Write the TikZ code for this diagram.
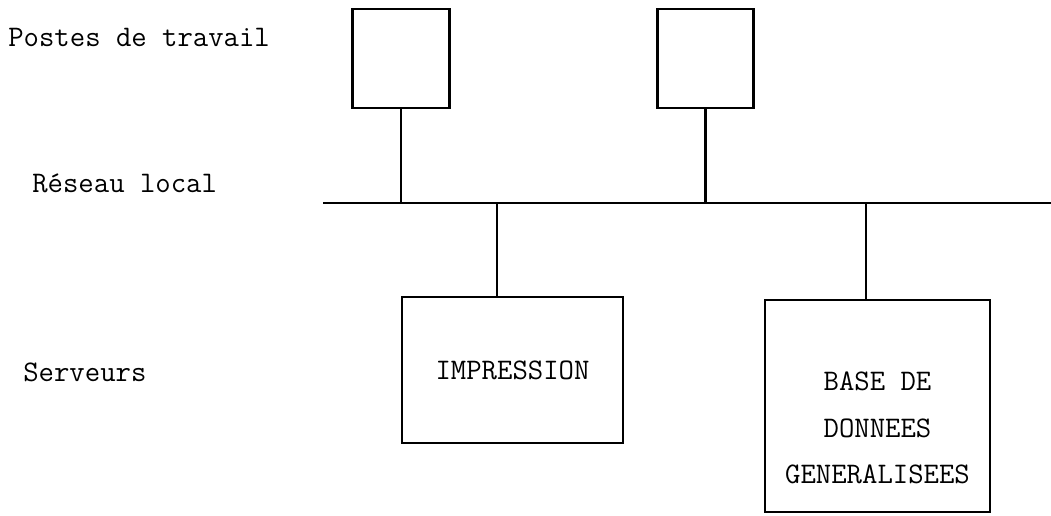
\documentclass[tikz,border=0pt]{standalone}
\usepackage{fontspec}
\usepackage{tikz}
\usetikzlibrary{positioning,calc}

\begin{document}
\begin{tikzpicture}[
    x=0.02cm, y=-0.02cm,
    every node/.style={font=\ttfamily\fontsize{17}{26.6}\selectfont},
    lbl/.style={anchor=base west, inner sep=0pt},
    poste/.style={draw, line width=1.6pt, rectangle, inner sep=0pt, minimum width=1.93cm, minimum height=1.98cm},
    serveur/.style={draw, line width=1.6pt, rectangle, inner sep=0pt, align=center},
    bus/.style={line width=1.2pt},
    tap/.style={line width=1.5pt}
]
\useasboundingbox (0,0) rectangle (1051,516);

% labels on the left
\node[lbl] (lposte) at (8,47) {Postes de travail};
\node[lbl] (lreseau) at (32,193) {Réseau local};
\node[lbl] (lserv) at (23,382) {Serveurs};

% local network
\coordinate (busw) at (323,203);
\coordinate (buse) at (1051,203);
\draw[bus] (busw) -- (buse);

% workstations
\node[poste] (poste1) at (401,58.5) {};
\node[poste] (poste2) at (705.5,58.5) {};

% servers
\node[serveur, minimum width=4.42cm, minimum height=2.92cm] (impr) at (512.5,370) {IMPRESSION};
\node[serveur, minimum width=4.5cm, minimum height=4.24cm] (base) at (877.5,406) {};
\node[align=center, yshift=-0.44cm] (basetxt) at (base.center) {BASE DE\\DONNEES\\GENERALISEES};

\coordinate (t3) at (497,203);
\coordinate (t4) at (866,203);

\draw[tap] (poste1.south) -- (poste1.south |- busw);
\draw[tap] (poste2.south) -- (poste2.south |- busw);
\draw[tap] (t3) -- (t3 |- impr.north);
\draw[tap] (t4) -- (t4 |- base.north);
\end{tikzpicture}
\end{document}
